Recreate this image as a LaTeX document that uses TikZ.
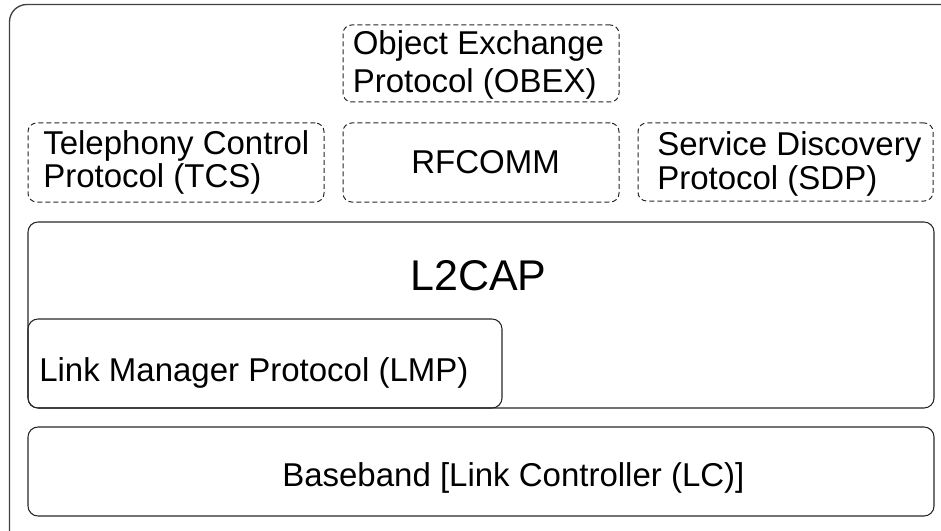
\documentclass[tikz,border=0pt]{standalone}
\usepackage{fontspec}
\setmainfont{Liberation Sans}
\usetikzlibrary{fit}
\begin{document}
\begin{tikzpicture}[x=0.75pt,y=-0.75pt,
  solidbox/.style={draw=black!85, line width=0.8pt, rounded corners=7.5pt, inner sep=0pt},
  dashbox/.style={draw=black!85, line width=0.75pt, dash pattern=on 3.75pt off 2.25pt, rounded corners=6.5pt, inner sep=0pt},
  outerbox/.style={draw=black!75, line width=1pt, rounded corners=13pt, inner sep=0pt},
  lbl/.style={inner sep=0pt, anchor=base west, font=\fontsize{24.75pt}{24.75pt}\selectfont},
  biglbl/.style={inner sep=0pt, anchor=base west, font=\fontsize{32.25pt}{32.25pt}\selectfont}]
\useasboundingbox (0,0) rectangle (941,531);
\clip (0,0) rectangle (941,531);
% outer frame (runs off the right and bottom)
\node[outerbox, fit={(9.5,4.5) (970,560)}] (outer) {};
% dashed upper-layer boxes
\node[dashbox, fit={(343,25) (619,102)}] (obex) {};
\node[dashbox, fit={(28,123) (324,202)}] (tcs) {};
\node[dashbox, fit={(343,123) (619,202)}] (rfcomm) {};
\node[dashbox, fit={(638,123) (933,201)}] (sdp) {};
% solid boxes
\node[solidbox, fit={(28,222) (934,408)}] (l2cap) {};
\node[solidbox, fit={(28,319) (502,408)}] (lmp) {};
\node[solidbox, fit={(28,427) (934,516)}] (bb) {};
% labels
\node[lbl] (obexA) at (352.5,55) {Object Exchange};
\node[lbl] (obexB) at (352.5,93) {Protocol (OBEX)};
\node[lbl] (tcsA) at (43,154) {Telephony Control};
\node[lbl] (tcsB) at (43,187) {Protocol (TCS)};
\node[lbl] (rfcommT) at (411,173) {RFCOMM};
\node[lbl] (sdpA) at (657,156) {Service Discovery};
\node[lbl] (sdpB) at (657,189) {Protocol (SDP)};
\node[biglbl] (l2capT) at (410,290) {L2CAP};
\node[lbl] (lmpT) at (39,381) {Link Manager Protocol (LMP)};
\node[lbl] (bbT) at (282,486) {Baseband [Link Controller (LC)]};
\end{tikzpicture}
\end{document}
